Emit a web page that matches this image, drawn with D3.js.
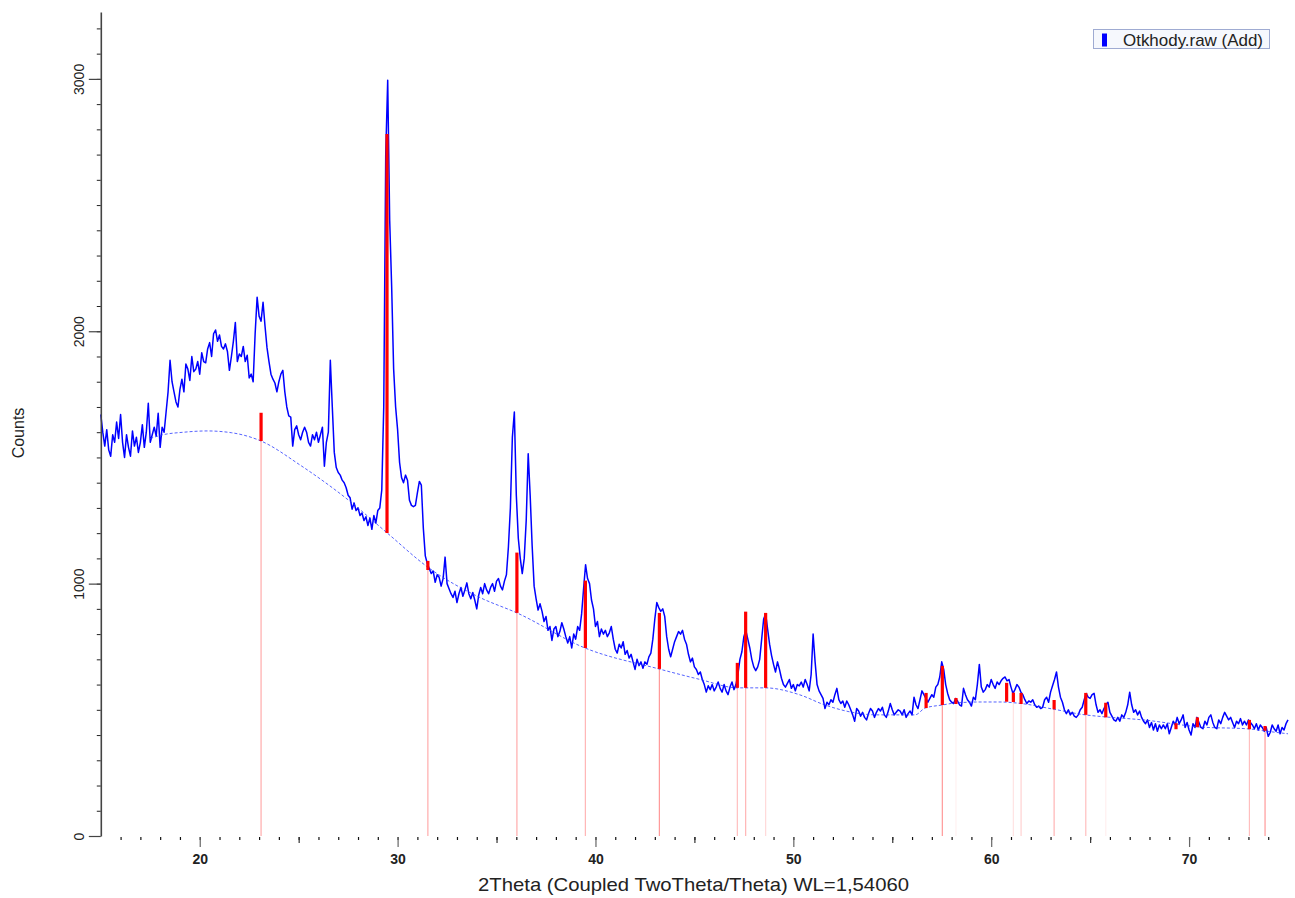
<!DOCTYPE html>
<html>
<head>
<meta charset="utf-8">
<script src="https://cdn.jsdelivr.net/npm/d3@7"></script>
<style>
  body { margin: 0; background: #fff; }
  svg { display: block; font-family: Arial, "Liberation Sans", sans-serif; }
</style>
</head>
<body>
<svg id="chart" width="1295" height="898"></svg>
<script>

// Scan settings (start angle and step of the raw file)
var scanStart = 15.0;
var scanStep = 0.1;

// Measured intensity, one row per degree 2Theta (x.0 .. x.9)
var counts = [
  1670, 1600, 1545, 1610, 1530, 1505, 1590, 1560, 1640, 1575,   // 15
  1670, 1560, 1500, 1590, 1540, 1505, 1605, 1545, 1580, 1520,   // 16
  1560, 1630, 1540, 1600, 1715, 1560, 1590, 1620, 1585, 1675,   // 17
  1540, 1620, 1600, 1680, 1760, 1885, 1800, 1760, 1720, 1700,   // 18
  1770, 1810, 1760, 1870, 1850, 1805, 1900, 1840, 1850, 1880,   // 19
  1830, 1915, 1880, 1875, 1930, 1955, 1900, 1990, 2005, 1960,   // 20
  1985, 1940, 1930, 1950, 1920, 1845, 1900, 1960, 2035, 1880,   // 21
  1910, 1900, 1940, 1880, 1905, 1815, 1830, 1800, 1990, 2135,   // 22
  2060, 2040, 2115, 2020, 1935, 1880, 1830, 1810, 1795, 1760,   // 23
  1800, 1830, 1845, 1760, 1700, 1665, 1660, 1545, 1610, 1625,   // 24
  1590, 1570, 1600, 1620, 1600, 1560, 1545, 1590, 1570, 1600,   // 25
  1560, 1590, 1620, 1465, 1560, 1600, 1885, 1700, 1520, 1460,   // 26
  1440, 1430, 1410, 1400, 1380, 1350, 1340, 1295, 1320, 1290,   // 27
  1300, 1270, 1280, 1250, 1265, 1230, 1260, 1215, 1270, 1240,   // 28
  1290, 1300, 1371, 1700, 2700, 2995, 2440, 2176, 1850, 1700,   // 29
  1610, 1480, 1420, 1400, 1430, 1410, 1330, 1310, 1305, 1310,   // 30
  1360, 1405, 1390, 1220, 1110, 1080, 1060, 1040, 1050, 1005,   // 31
  1035, 1025,  990, 1020, 1105, 1000,  980,  960,  945,  970,   // 32
   925,  960,  985,  950,  975, 1003,  960,  940,  965,  935,   // 33
   900,  955,  985,  960, 1000,  975,  960,  985, 1000,  970,   // 34
  1010, 1020,  990,  975, 1010, 1035, 1145, 1300, 1580, 1680,   // 35
  1350, 1180, 1100, 1040, 1100, 1250, 1515, 1350, 1150,  990,   // 36
   940,  895,  920,  890,  850,  870,  815,  830,  775,  820,   // 37
   830,  790,  810,  845,  820,  790,  765,  790,  745,  800,   // 38
   780,  830,  815,  880,  980, 1075, 1020, 1000,  935,  900,   // 39
   830,  850,  790,  820,  800,  815,  790,  805,  830,  780,   // 40
   740,  725,  760,  745,  770,  720,  735,  705,  720,  690,   // 41
   660,  700,  675,  690,  665,  690,  680,  710,  725,  780,   // 42
   860,  925,  905,  890,  900,  870,  790,  740,  710,  740,   // 43
   770,  790,  810,  800,  815,  780,  760,  720,  690,  705,   // 44
   670,  660,  640,  650,  620,  600,  570,  595,  580,  600,   // 45
   575,  590,  610,  585,  570,  600,  575,  560,  590,  610,   // 46
   580,  600,  640,  700,  730,  790,  815,  780,  745,  700,   // 47
   670,  655,  670,  700,  780,  860,  880,  820,  760,  715,   // 48
   680,  650,  690,  660,  625,  600,  590,  605,  620,  585,   // 49
   600,  575,  600,  595,  610,  590,  620,  600,  575,  640,   // 50
   800,  690,  600,  575,  560,  545,  505,  530,  520,  540,   // 51
   530,  560,  585,  540,  525,  535,  510,  535,  520,  500,   // 52
   480,  455,  505,  495,  475,  490,  470,  460,  485,  505,   // 53
   495,  470,  490,  505,  495,  510,  480,  470,  495,  525,   // 54
   500,  480,  490,  500,  495,  480,  500,  470,  485,  495,   // 55
   480,  550,  520,  505,  540,  575,  560,  545,  530,  545,   // 56
   560,  550,  590,  600,  630,  690,  660,  600,  565,  540,   // 57
   530,  525,  545,  535,  520,  515,  585,  560,  540,  530,   // 58
   515,  550,  540,  600,  680,  590,  570,  580,  600,  590,   // 59
   620,  600,  585,  610,  600,  615,  625,  630,  615,  620,   // 60
   590,  565,  580,  600,  590,  570,  560,  540,  525,  535,   // 61
   530,  540,  520,  510,  515,  505,  510,  540,  550,  530,   // 62
   570,  595,  620,  650,  590,  550,  530,  500,  485,  500,   // 63
   480,  490,  475,  470,  480,  500,  510,  540,  565,  550,   // 64
   545,  560,  565,  520,  490,  500,  485,  505,  520,  530,   // 65
   490,  475,  460,  455,  470,  455,  480,  470,  490,  520,   // 66
   570,  520,  490,  500,  480,  495,  470,  455,  445,  460,   // 67
   430,  450,  420,  445,  415,  440,  425,  440,  425,  445,   // 68
   405,  430,  455,  440,  470,  445,  460,  480,  430,  450,   // 69
   420,  400,  445,  430,  470,  450,  430,  425,  455,  440,   // 70
   470,  480,  450,  430,  425,  460,  445,  470,  490,  475,   // 71
   460,  470,  450,  430,  455,  445,  465,  440,  455,  440,   // 72
   460,  450,  440,  425,  445,  420,  440,  430,  415,  430,   // 73
   395,  410,  440,  425,  415,  440,  405,  430,  420,  445,   // 74
   460                                                          // 75
];

// Fitted background curve
var bgTheta  = [17.5, 18.09, 19.2, 20.37, 21.6, 23.10, 25.07, 27.45, 29.47, 31.53, 34.16, 36.03,
                39.47, 43.21, 45.3, 47.2, 48.57, 50.34, 51.6, 54.23, 56.15, 56.66, 57.52, 58.18,
                59.44, 60.45, 61.51, 63.18, 64.75, 65.76, 67.68, 70.56, 73.09, 73.85, 75.0];
var bgCounts = [1575, 1589, 1600, 1605, 1598, 1565, 1470, 1335, 1201, 1065, 945, 884,
                745, 662, 620, 587, 587, 559, 519, 480, 480, 507, 519, 527,
                531, 531, 525, 502, 480, 472, 460, 432, 424, 416, 405];

// Peak search result: position, peak top and background at the peak
var stickTheta = [23.10, 29.465, 31.53, 36.03, 39.49, 43.23, 47.17, 47.59, 48.60, 56.71, 57.53,
                  58.22, 60.78, 61.12, 61.51, 63.18, 64.78, 65.79, 69.34, 70.42, 73.05, 73.84];
var stickTop   = [1677, 2782, 1090, 1123, 1012, 884, 686, 889, 884, 567, 674,
                  547, 607, 568, 567, 539, 567, 528, 447, 470, 460, 436];
var stickBase  = [1565, 1201, 1054, 884, 745, 662, 587, 587, 587, 507, 519,
                  523, 532, 531, 523, 502, 480, 470, 423, 431, 423, 417];
// Relative intensity of the matching reference line (0 = no drop line)
var stickRefI  = [45, 0, 45, 45, 40, 55, 35, 40, 20, 0, 55,
                  8, 0, 15, 25, 40, 35, 8, 0, 0, 35, 55];

var yMajorTicks = [0, 1000, 2000, 3000];
var xMajorTicks = [20, 30, 40, 50, 60, 70];
var xMidTicks = [25, 35, 45, 55, 65];

var xTitle = '2Theta (Coupled TwoTheta/Theta) WL=1,54060';
var yTitle = 'Counts';
var legendLabel = 'Otkhody.raw (Add)';


APP = {};

APP.main = function(){
  var svg = d3.select('#chart');

  APP.x = d3.scaleLinear().domain([15, 75]).range([100.8, 1288]);
  APP.y = d3.scaleLinear().domain([0, 3265]).range([836, 12]);

  APP.drawDropLines(svg);
  APP.drawPattern(svg);
  APP.drawSticks(svg);
  APP.drawAxes(svg);
  APP.drawLegend(svg);
};


APP.drawDropLines = function(svg){
  // thin lines from the background down to zero, strength from reference intensity
  var alpha = d3.scaleLinear().domain([0, 60]).range([0, 0.5]);
  var idx = d3.range(stickTheta.length).filter(function(i){ return stickRefI[i] > 0; });

  svg.append('g').selectAll('line')
      .data(idx)
      .enter()
      .append('line')
      .attr('x1', function(i){ return APP.x(stickTheta[i]); })
      .attr('x2', function(i){ return APP.x(stickTheta[i]); })
      .attr('y1', function(i){ return APP.y(stickBase[i]); })
      .attr('y2', APP.y(0))
      .attr('stroke', '#ff2020')
      .attr('stroke-width', 1.2)
      .attr('stroke-opacity', function(i){ return alpha(stickRefI[i]); });
};


APP.drawPattern = function(svg){
  var pts = counts.map(function(c, i){ return [scanStart + i * scanStep, c]; });

  var line = d3.line()
      .x(function(d){ return APP.x(d[0]); })
      .y(function(d){ return APP.y(d[1]); });

  svg.append('path')
      .datum(pts)
      .attr('d', line)
      .attr('fill', 'none')
      .attr('stroke', '#0000ff')
      .attr('stroke-width', 1.5)
      .attr('stroke-linejoin', 'round');

  // background, thin dotted
  var bg = bgTheta.map(function(t, i){ return [t, bgCounts[i]]; });
  svg.append('path')
      .datum(bg)
      .attr('d', line.curve(d3.curveMonotoneX))
      .attr('fill', 'none')
      .attr('stroke', '#2a3cff')
      .attr('stroke-width', 1)
      .attr('stroke-opacity', 0.8)
      .attr('stroke-dasharray', '3,2');
};


APP.drawSticks = function(svg){
  svg.append('g').selectAll('line')
      .data(d3.range(stickTheta.length))
      .enter()
      .append('line')
      .attr('x1', function(i){ return APP.x(stickTheta[i]); })
      .attr('x2', function(i){ return APP.x(stickTheta[i]); })
      .attr('y1', function(i){ return APP.y(stickBase[i]); })
      .attr('y2', function(i){ return APP.y(stickTop[i]); })
      .attr('stroke', '#ff0000')
      .attr('stroke-width', 3.2);
};


APP.drawAxes = function(svg){
  var x = APP.x, y = APP.y;

  // y axis: minor ticks every 100, long ticks every 1000 with rotated labels
  var yMinor = svg.append('g')
      .attr('transform', 'translate(' + x(15) + ',0)')
      .call(d3.axisLeft(y).tickValues(d3.range(100, 3265, 100)).tickSize(4).tickFormat(''));
  yMinor.select('.domain').remove();
  yMinor.selectAll('line').attr('stroke', '#222');

  var yAxis = svg.append('g')
      .attr('transform', 'translate(' + x(15) + ',0)')
      .call(d3.axisLeft(y).tickValues(yMajorTicks).tickSize(12).tickSizeOuter(0)
              .tickFormat(d3.format('d')));
  yAxis.select('.domain').attr('stroke', '#444').attr('stroke-width', 1.6);
  yAxis.selectAll('line').attr('stroke', '#444').attr('stroke-width', 1.2);
  yAxis.selectAll('text')
      .attr('transform', 'rotate(-90)')
      .attr('x', 0)
      .attr('y', -17)
      .attr('dy', 0)
      .attr('text-anchor', 'middle')
      .attr('fill', '#222')
      .style('font-size', '14px');

  // x axis: no base line, ticks at 1, 5 and 10 degrees
  var base = y(0) + 1;
  var xMinor = svg.append('g')
      .attr('transform', 'translate(0,' + base + ')')
      .call(d3.axisBottom(x).tickValues(d3.range(16, 75)).tickSize(3).tickFormat(''));
  xMinor.select('.domain').remove();
  xMinor.selectAll('line').attr('stroke', '#111').attr('stroke-width', 1.2);

  var xMid = svg.append('g')
      .attr('transform', 'translate(0,' + base + ')')
      .call(d3.axisBottom(x).tickValues(xMidTicks).tickSize(6).tickFormat(''));
  xMid.select('.domain').remove();
  xMid.selectAll('line').attr('stroke', '#333').attr('stroke-width', 1.2);

  var xAxis = svg.append('g')
      .attr('transform', 'translate(0,' + base + ')')
      .call(d3.axisBottom(x).tickValues(xMajorTicks).tickSize(10));
  xAxis.select('.domain').remove();
  xAxis.selectAll('line').attr('stroke', '#666').attr('stroke-width', 1.2);
  xAxis.selectAll('text')
      .attr('y', 17)
      .attr('fill', '#222')
      .style('font-size', '14px')
      .style('font-weight', 'bold');

  svg.append('text')
      .attr('x', 693.5)
      .attr('y', 891)
      .attr('text-anchor', 'middle')
      .attr('textLength', 431)
      .attr('lengthAdjust', 'spacingAndGlyphs')
      .attr('fill', '#222')
      .style('font-size', '19px')
      .text(xTitle);

  svg.append('text')
      .attr('transform', 'translate(24,433) rotate(-90)')
      .attr('text-anchor', 'middle')
      .attr('fill', '#222')
      .style('font-size', '16px')
      .text(yTitle);
};


APP.drawLegend = function(svg){
  var g = svg.append('g').attr('transform', 'translate(1093.5,29.5)');
  g.append('rect')
      .attr('width', 176)
      .attr('height', 19)
      .attr('fill', '#f6f8fd')
      .attr('stroke', '#9fabd2');
  g.append('rect')
      .attr('x', 8.5)
      .attr('y', 4)
      .attr('width', 5)
      .attr('height', 13)
      .attr('fill', '#0000ff');
  g.append('text')
      .attr('x', 29.5)
      .attr('y', 16)
      .attr('textLength', 140)
      .attr('lengthAdjust', 'spacingAndGlyphs')
      .attr('fill', '#222')
      .style('font-size', '17px')
      .text(legendLabel);
};


APP.main();
</script>
</body>
</html>
